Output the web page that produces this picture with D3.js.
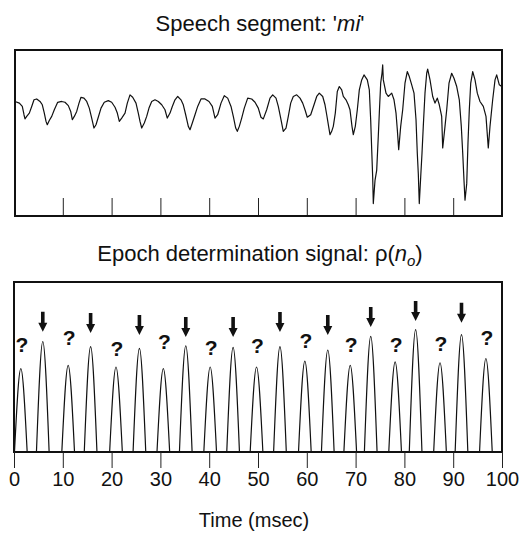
<!DOCTYPE html>
<html><head><meta charset="utf-8">
<script src="https://cdn.jsdelivr.net/npm/d3@7/dist/d3.min.js"></script>
<style>
body{margin:0;background:#fff}
svg text{font-family:"Liberation Sans",Arial,Helvetica,sans-serif;fill:#111}
</style></head><body>
<svg id="c" width="521" height="534"></svg>
<script>
// ---- speech segment 'mi' (time in ms, amplitude arbitrary units) ----
const speechTime = [
 0.2,1.1,1.7,2.05,2.25,2.6,3.14,3.63,4.1,4.65,
 5.33,5.8,6.21,6.56,6.82,7.23,7.73,8.26,8.95,9.77,
 10.45,11.13,11.62,11.95,12.36,12.85,13.32,13.73,14.34,14.9,
 15.43,15.92,16.39,16.8,17.27,17.83,18.5,19.32,20.02,20.7,
 21.17,21.58,22.07,22.75,23.22,23.77,24.32,25.0,25.47,25.82,
 26.17,26.7,27.19,27.66,28.22,28.89,29.57,30.27,30.94,31.41,
 31.97,32.44,32.99,33.55,34.22,34.69,35.18,35.72,36.07,36.54,
 37.09,37.64,38.32,39.14,39.96,40.64,41.19,41.74,42.42,43.09,
 43.79,44.47,44.94,45.43,45.76,46.17,46.66,47.19,47.89,48.71,
 49.39,50.06,50.61,51.09,51.78,52.46,53.01,53.69,54.16,54.65,
 55.18,55.74,56.21,56.7,57.23,57.93,58.61,59.16,59.63,60.1,
 60.8,61.48,62.03,62.56,63.26,63.73,64.08,64.41,64.75,65.1,
 65.43,65.84,66.25,66.66,67.15,67.48,68.03,68.5,68.85,69.26,
 69.53,69.94,70.35,70.76,71.25,71.72,72.4,72.81,73.09,73.3,
 73.5,73.63,73.98,74.32,74.65,74.86,75.14,75.41,75.55,75.68,
 76.23,76.7,77.4,77.87,78.28,78.55,78.83,79.24,79.65,80.12,
 80.59,81.0,81.5,81.97,82.38,82.64,82.85,83.05,83.34,83.61,
 83.87,84.22,84.57,84.77,85.25,85.8,86.27,86.74,87.15,87.64,
 87.85,88.32,88.67,89.14,89.69,90.16,90.72,91.25,91.66,91.95,
 92.21,92.42,92.77,93.03,93.3,93.59,94.0,94.47,94.94,95.49,
 96.17,96.72,97.19,97.54,98.09,98.57,98.91,99.45,99.94
];
const speechAmp = [
 38,36,32,22,17,20,24,32,40,41,
 38,34,24,14,10,15,20,28,37,38,
 37,33,26,16,20,26,36,43,42,38,
 30,18,6,10,19,30,37,39,37,31,
 24,14,18,24,36,46,43,36,24,14,
 6,12,20,30,38,40,38,34,28,18,
 24,32,40,44,40,34,22,8,4,12,
 22,32,41,41,38,32,18,22,36,45,
 42,32,20,6,2,8,18,30,42,41,
 37,30,19,17,28,42,46,42,32,18,
 2,6,20,36,44,46,42,36,28,19,
 22,34,44,48,44,34,22,10,-2,2,
 8,24,50,56,52,44,40,34,28,8,
 -2,8,28,52,64,70,64,52,16,-20,
 -53,-85,-57,-45,-4,24,60,72,82,64,
 48,44,48,40,24,4,-20,8,28,60,
 74,68,58,48,16,-24,-49,-85,-53,-24,
 8,48,72,77,64,44,36,42,34,20,
 -18,8,28,60,72,66,56,40,8,-24,
 -57,-81,-61,-12,28,60,74,64,48,38,
 32,20,-18,8,40,64,70,58,56
];

// ---- epoch determination signal rho(n_o): hump peaks ----
const peakTime  = [1.4,5.9,11.1,15.7,20.9,25.7,30.6,35.2,40.2,44.9,49.7,54.5,59.6,64.3,68.9,73.1,78.1,82.3,87.3,91.7,96.7];
const peakValue = [0.49,0.65,0.51,0.62,0.50,0.61,0.49,0.625,0.50,0.615,0.50,0.62,0.535,0.60,0.51,0.68,0.53,0.72,0.525,0.69,0.55];
const humpHalfWidth = 1.3; // ms
// marker kind per hump and the level (signal units) where each marker sits
const markerKind  = ["?","v","?","v","?","v","?","v","?","v","?","v","?","v","?","v","?","v","?","v","?"];
const markerLevel = [0.59,0.708,0.63,0.70,0.565,0.688,0.605,0.676,0.57,0.676,0.58,0.706,0.61,0.688,0.59,0.735,0.59,0.77,0.595,0.76,0.63];

const xTicks = [0,10,20,30,40,50,60,70,80,90,100];
const innerTicks = [10,20,30,40,50,60,70,80,90];

const svg = d3.select("#c");
const x = d3.scaleLinear().domain([0,100]).range([14,502]);
const yTop = d3.scaleLinear().domain([-100,100]).range([216,50]);
const yBot = d3.scaleLinear().domain([0,1]).range([452,282]);

// titles
const t1 = svg.append("text").attr("x",260).attr("y",31).attr("text-anchor","middle").style("font-size","22px");
t1.append("tspan").text("Speech segment: '");
t1.append("tspan").style("font-style","italic").text("mi");
t1.append("tspan").text("'");

const t2 = svg.append("text").attr("x",260).attr("y",261).attr("text-anchor","middle").style("font-size","22px");
t2.append("tspan").text("Epoch determination signal: \u03C1(");
t2.append("tspan").style("font-style","italic").text("n");
t2.append("tspan").style("font-style","italic").style("font-size","15px").attr("dy",5).text("o");
t2.append("tspan").attr("dy",-5).text(")");

// ---- top panel ----
const gTop = svg.append("g");
gTop.append("g").attr("transform","translate(0,216)")
  .call(d3.axisBottom(x).tickValues(innerTicks).tickSize(-18).tickFormat(""))
  .call(g=>g.select(".domain").remove())
  .call(g=>g.selectAll("line").attr("stroke","#222").attr("stroke-width",1));

gTop.append("path")
  .datum(d3.zip(speechTime, speechAmp))
  .attr("fill","none").attr("stroke","#111").attr("stroke-width",1.2).attr("stroke-linejoin","round")
  .attr("d", d3.line().x(d=>x(d[0])).y(d=>yTop(d[1])));

gTop.append("rect").attr("x",x(0)+1).attr("y",yTop(100)).attr("width",x(100)-x(0)-1).attr("height",yTop(-100)-yTop(100))
  .attr("fill","none").attr("stroke","#111").attr("stroke-width",2);

// ---- bottom panel ----
const gBot = svg.append("g");
const humpLine = d3.line().x(d=>x(d[0])).y(d=>yBot(d[1])).curve(d3.curveNatural);
peakTime.forEach((t,i)=>{
  gBot.append("path")
    .datum([[t-humpHalfWidth,0],[t,peakValue[i]],[t+humpHalfWidth,0]])
    .attr("fill","none").attr("stroke","#111").attr("stroke-width",1.2)
    .attr("d", humpLine);
});

peakTime.forEach((t,i)=>{
  const cx = x(t), cy = yBot(markerLevel[i]);
  if (markerKind[i]==="?") {
    gBot.append("text").attr("x",cx+1).attr("y",cy).attr("text-anchor","middle")
      .style("font-size","21px").style("font-weight","bold").text("?");
  } else {
    gBot.append("path")
      .attr("d",`M${cx-1.8},${cy-20}L${cx+1.8},${cy-20}L${cx+1.8},${cy-9}L${cx+4.5},${cy-9}L${cx},${cy}L${cx-4.5},${cy-9}L${cx-1.8},${cy-9}Z`)
      .attr("fill","#111");
  }
});

gBot.append("rect").attr("x",x(0)).attr("y",yBot(1)).attr("width",x(100)-x(0)).attr("height",yBot(0)-yBot(1))
  .attr("fill","none").attr("stroke","#111").attr("stroke-width",2);

const ax = gBot.append("g").attr("transform","translate(0,452)")
  .call(d3.axisBottom(x).tickValues(xTicks).tickSize(16).tickPadding(4).tickFormat(d3.format("d")));
ax.select(".domain").remove();
ax.selectAll("line").attr("stroke","#222").attr("stroke-width",1);
ax.selectAll("text").style("font-size","20px").attr("fill","#111")
  .style("font-family",'"Liberation Sans",Arial,Helvetica,sans-serif');

svg.append("text").attr("x",254).attr("y",527).attr("text-anchor","middle").style("font-size","20px").text("Time (msec)");
</script>
</body></html>
